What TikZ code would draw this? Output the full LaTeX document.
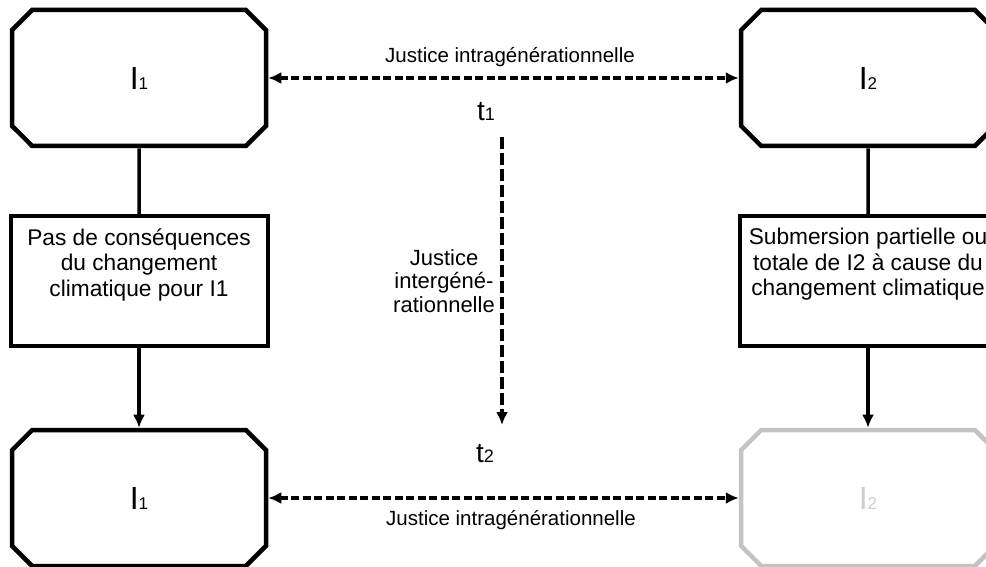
\documentclass[tikz,border=0pt]{standalone}
\usepackage{fontspec}
\setmainfont{Liberation Sans}
\usetikzlibrary{shapes.misc,arrows.meta,positioning}

\definecolor{fadegray}{RGB}{195,195,195}
\tikzset{
  island/.style={chamfered rectangle, chamfered rectangle xsep=38pt,
    chamfered rectangle ysep=40pt, draw=black, line width=4.5pt,
    minimum width=254pt, minimum height=136pt, inner sep=0pt,
    font=\fontsize{32}{32}\selectfont},
  effect/.style={rectangle, draw=black, line width=4pt, minimum width=257pt,
    minimum height=129pt, inner sep=0pt},
  justice/.style={dash pattern=on 8pt off 3.5pt, line width=4pt, <->},
}
\newcommand{\effecttext}[1]{\parbox[c][105pt][t]{252pt}{\centering\fontsize{22.7}{25.5}\selectfont #1}}

\begin{document}
\begin{tikzpicture}[x=1pt, y=-1pt, >={Latex[length=13pt,width=12pt]}]
   \clip (0,0) rectangle (986,567);
   % islands at t1 and t2
   \node[island] (i1top) at (139,78) {I{\fontsize{17}{17}\selectfont 1}};
   \node[island] (i2top) at (868,78) {I{\fontsize{17}{17}\selectfont 2}};
   \node[island] (i1bot) at (139,498) {I{\fontsize{17}{17}\selectfont 1}};
   \node[island, draw=fadegray, text=fadegray!85] (i2bot) at (868,498) {I{\fontsize{17}{17}\selectfont 2}};
   % consequences
   \node[effect] (cons1) at (139,281) {\effecttext{Pas de conséquences\\ du changement\\ climatique pour I1}};
   \node[effect] (cons2) at (868,281) {\effecttext{Submersion partielle ou\\ totale de I2 à cause du\\ changement climatique}};
   % time marks
   \node[font=\fontsize{28}{28}\selectfont] (t1) at (486,112) {t{\fontsize{18}{18}\selectfont 1}};
   \node[font=\fontsize{28}{28}\selectfont] (t2) at (485,454) {t{\fontsize{18}{18}\selectfont 2}};
   \coordinate (tstart) at (502,137);
   \coordinate (tend) at (502,425);
   \begin{scope}[every node/.style={font=\fontsize{20.5}{23.5}\selectfont, align=center}]
    \node (intratop) at (510,57) {Justice intragénérationnelle};
    \node (intrabot) at (511,520) {Justice intragénérationnelle};
    \node[font=\fontsize{22}{23.5}\selectfont] (inter) at (444,281) {Justice\\ intergéné-\\ rationnelle};
   \end{scope}
   \begin{scope}[line width=3.5pt]
    \draw (i1top) -- (cons1);
    \draw[->] (cons1) -- (i1bot);
    \draw (i2top) -- (cons2);
    \draw[->] (cons2) -- (i2bot);
   \end{scope}
   \draw[justice] (i1top.east) -- (i2top.west);
   \draw[justice] (i1bot.east) -- (i2bot.west);
   \draw[->, dash pattern=on 12pt off 4pt, line width=4pt] (tstart) -- (tend);
\end{tikzpicture}
\end{document}
